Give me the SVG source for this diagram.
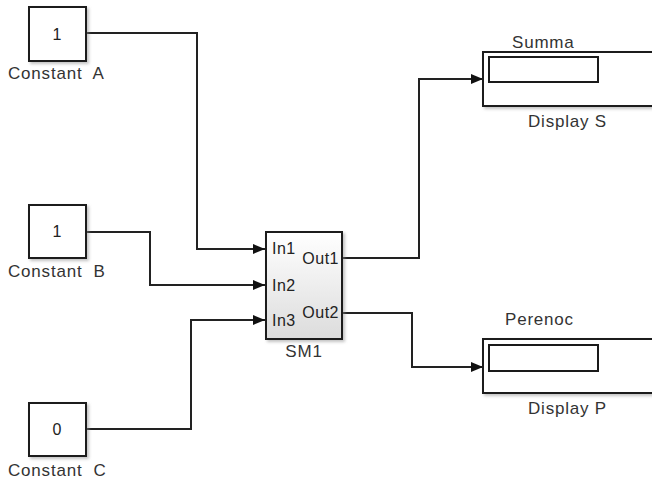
<svg xmlns="http://www.w3.org/2000/svg" width="652" height="481" viewBox="0 0 652 481">
<defs>
<style>
.blk{fill:#fff;stroke:#1a1a1a;stroke-width:2}
.lbl{font-family:"Liberation Sans",Arial,sans-serif;font-size:17px;letter-spacing:0.8px;fill:#333}
.val{font-family:"Liberation Sans",Arial,sans-serif;font-size:16px;fill:#222;text-anchor:middle}
.port{font-family:"Liberation Sans",Arial,sans-serif;font-size:16px;letter-spacing:0.5px;fill:#222}
.wire{fill:none;stroke:#222;stroke-width:2}
</style>
<filter id="sh" x="-10%" y="-10%" width="130%" height="130%">
<feDropShadow dx="2" dy="2" stdDeviation="1.5" flood-color="#888" flood-opacity="0.5"/>
</filter>
<linearGradient id="grad" x1="0" y1="0" x2="0" y2="1">
<stop offset="0" stop-color="#ffffff"/>
<stop offset="1" stop-color="#dcdcdc"/>
</linearGradient>
<marker id="arr" markerUnits="userSpaceOnUse" markerWidth="13" markerHeight="11" refX="12" refY="5" orient="auto">
<path d="M0,0 L12,5 L0,10 z" fill="#111"/>
</marker>
</defs>
<rect width="652" height="481" fill="#fff"/>

<g id="connectors">
<path class="wire" d="M86,33 H197 V249 H265" marker-end="url(#arr)"/>
<path class="wire" d="M86,232 H150 V285 H265" marker-end="url(#arr)"/>
<path class="wire" d="M86,429 H191 V320 H265" marker-end="url(#arr)"/>
<path class="wire" d="M342,258 H419 V79 H483" marker-end="url(#arr)"/>
<path class="wire" d="M342,313 H412 V367 H483" marker-end="url(#arr)"/>
</g>

<g id="constA">
<rect class="blk" x="29" y="7" width="57" height="54" filter="url(#sh)"/>
<text class="val" x="57" y="40">1</text>
<text class="lbl" x="8" y="79" xml:space="preserve">Constant  A</text>
</g>

<g id="constB">
<rect class="blk" x="29" y="205" width="57" height="53" filter="url(#sh)"/>
<text class="val" x="57" y="237">1</text>
<text class="lbl" x="8" y="277" xml:space="preserve">Constant  B</text>
</g>

<g id="constC">
<rect class="blk" x="29" y="403" width="57" height="53" filter="url(#sh)"/>
<text class="val" x="57" y="435">0</text>
<text class="lbl" x="8" y="476" xml:space="preserve">Constant  C</text>
</g>

<g id="SM1">
<rect x="266" y="232" width="76" height="107" fill="url(#grad)" stroke="#1a1a1a" stroke-width="2" filter="url(#sh)"/>
<text class="port" x="272" y="254">In1</text>
<text class="port" x="272" y="291">In2</text>
<text class="port" x="272" y="326">In3</text>
<text class="port" x="339" y="264" text-anchor="end">Out1</text>
<text class="port" x="339" y="318" text-anchor="end">Out2</text>
<text class="lbl" x="304" y="357" text-anchor="middle">SM1</text>
</g>

<g id="displayS">
<text class="lbl" x="512" y="48">Summa</text>
<rect class="blk" x="483" y="52" width="180" height="54" filter="url(#sh)"/>
<rect x="489" y="57" width="109" height="25" fill="#fff" stroke="#1a1a1a" stroke-width="2"/>
<text class="lbl" x="528" y="127">Display S</text>
</g>

<g id="displayP">
<text class="lbl" x="505" y="325">Perenoc</text>
<rect class="blk" x="483" y="339" width="180" height="54" filter="url(#sh)"/>
<rect x="489" y="345" width="109" height="26" fill="#fff" stroke="#1a1a1a" stroke-width="2"/>
<text class="lbl" x="528" y="414">Display P</text>
</g>
</svg>
